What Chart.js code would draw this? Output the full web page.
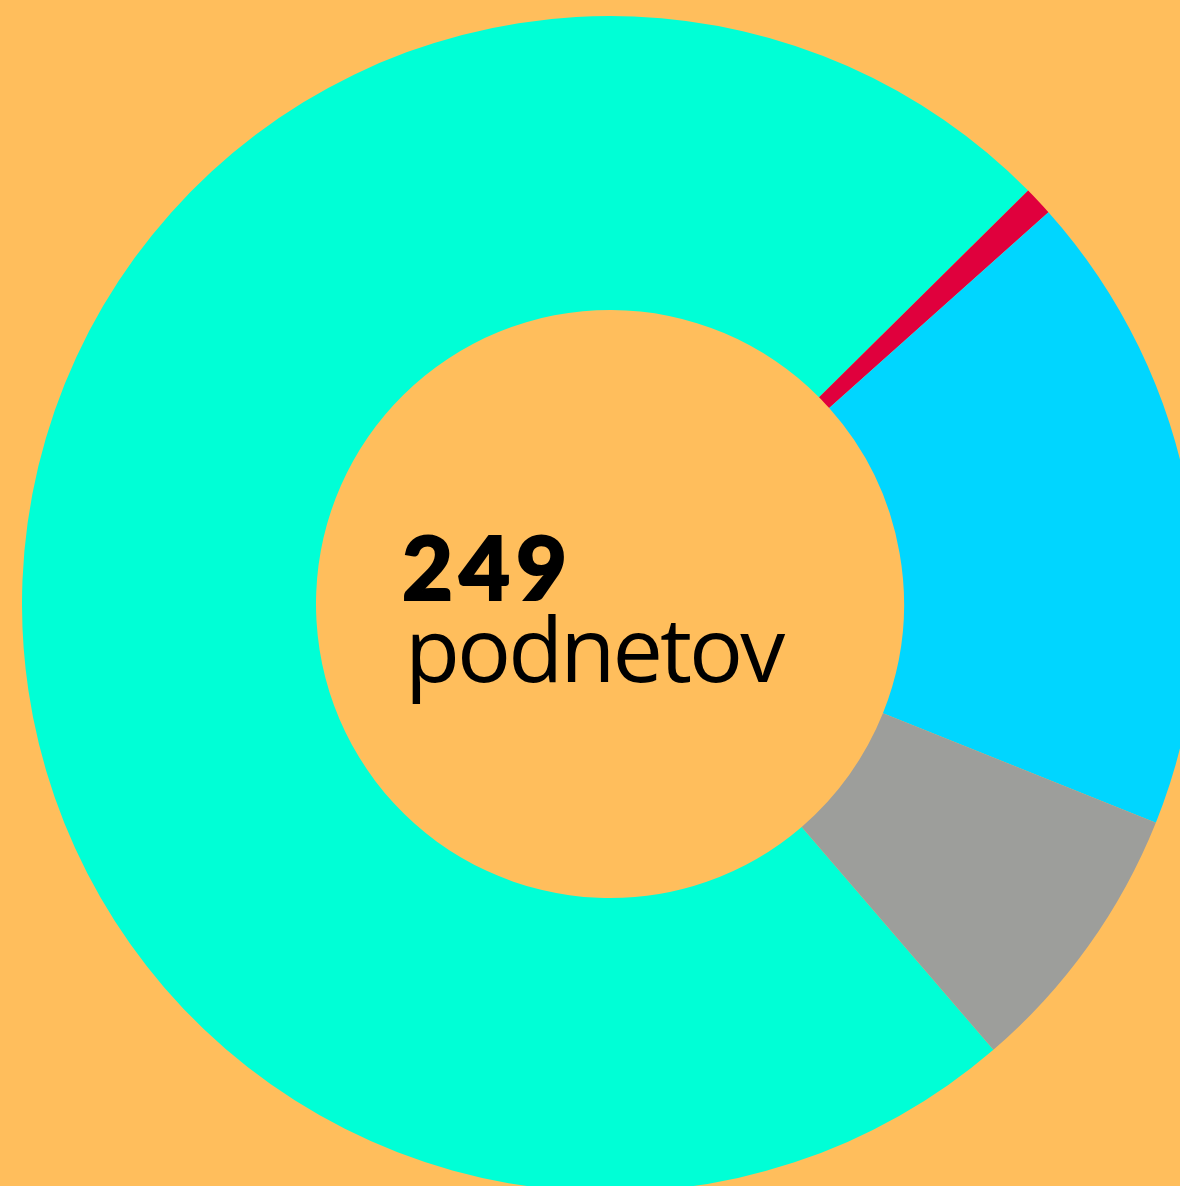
<!DOCTYPE html>
<html>
<head>
<meta charset="utf-8">
<script src="https://cdn.jsdelivr.net/npm/chart.js@4.4.0/dist/chart.umd.min.js"></script>
<style>
  html, body { margin: 0; padding: 0; width: 1180px; height: 1186px; overflow: hidden; background: #FFBE5C; }
  #chart { position: absolute; left: 22px; top: 16px; }
  .label { position: absolute; color: #000; white-space: nowrap; }
  #num { left: 402px; top: 522px; font: 900 88px Lato, sans-serif; line-height: 88px; letter-spacing: 6px; -webkit-text-stroke: 2px #000; }
  #unit { left: 405px; top: 602px; font: 400 90px "Open Sans", sans-serif; line-height: 90px; letter-spacing: -3px; }
</style>
</head>
<body>
<canvas id="chart" width="1176" height="1176"></canvas>
<div id="num" class="label">249</div>
<div id="unit" class="label">podnetov</div>
<script>
// podnety, spolu 249
const labels = ['A', 'B', 'C', 'D'];
const values = [184, 2, 44, 19];
const colors = ['#00FFD6', '#E0003D', '#00D6FF', '#9D9E9B'];

const ctx = document.getElementById('chart');
const myChart = new Chart(ctx, {
    type: 'doughnut',
    data: {
        labels: labels,
        datasets: [{
            data: values,
            backgroundColor: colors,
            borderWidth: 0,
            hoverOffset: 0
        }]
    },
    options: {
        responsive: false,
        animation: false,
        events: [],
        cutout: '50%',
        rotation: 139.3,
        layout: { padding: 0 },
        plugins: {
            legend: { display: false },
            tooltip: { enabled: false }
        }
    }
});
</script>
</body>
</html>
